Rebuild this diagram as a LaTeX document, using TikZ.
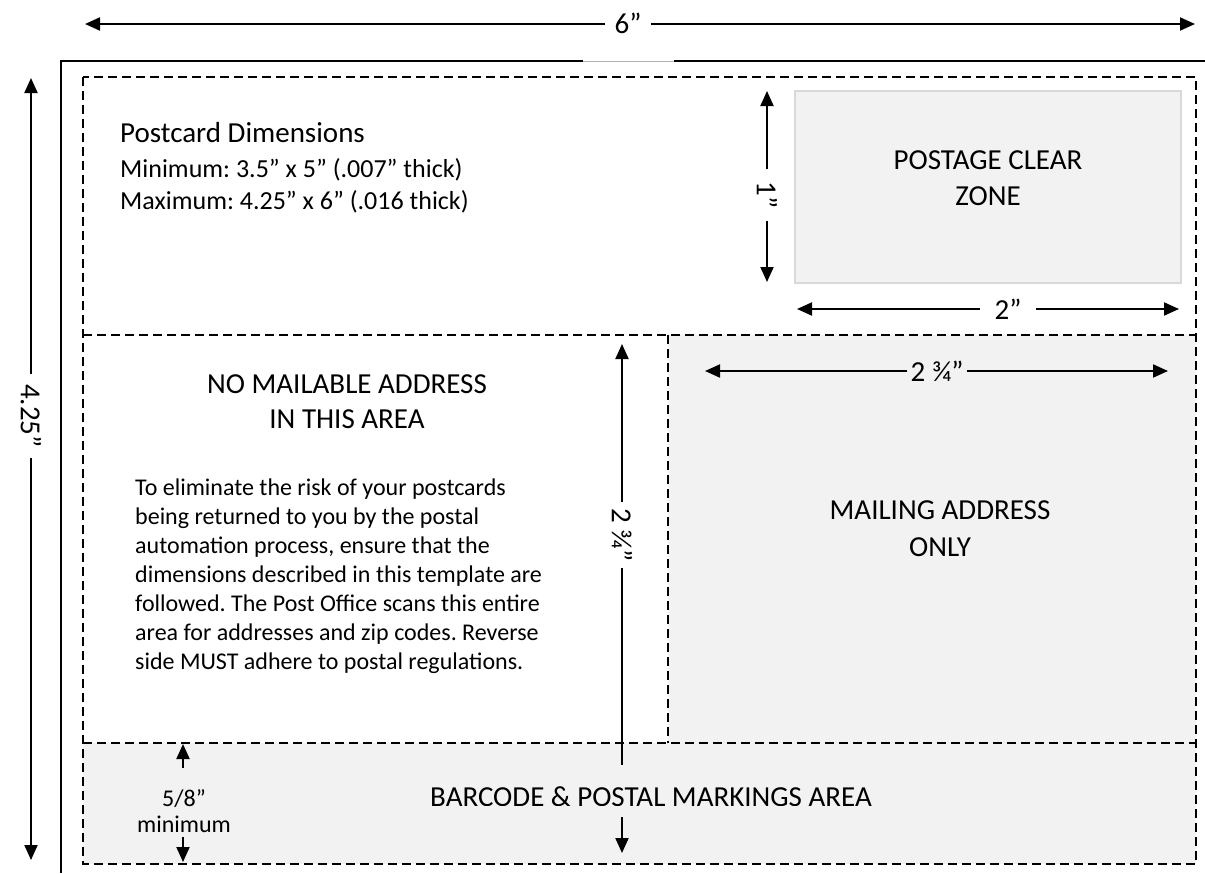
\documentclass[tikz,border=0pt]{standalone}
\usepackage{fontspec}
\setmainfont{Carlito}
\usetikzlibrary{arrows.meta}
\definecolor{boxgrey}{HTML}{F2F2F2}
\definecolor{edgegrey}{HTML}{D9D9D9}
\frenchspacing
\begin{document}
\begin{tikzpicture}[x=1pt,y=-1pt,
  dimarrow/.style={line width=2pt,-{Triangle[length=15pt,width=13pt]}},
  dimline/.style={line width=2pt},
  zoneline/.style={dash pattern=on 9pt off 5pt, line width=1.6pt},
  dimlbl/.style={font=\fontsize{29}{35}\selectfont, inner ysep=0pt},
  bigtxt/.style={font=\fontsize{29}{35}\selectfont, inner sep=0pt, anchor=base},
  midtxt/.style={font=\fontsize{26}{32}\selectfont, inner sep=0pt, anchor=base west},
  paratxt/.style={font=\fontsize{24}{29}\selectfont, inner sep=0pt, anchor=base west},
  smalltxt/.style={font=\fontsize{24}{29}\selectfont, inner sep=0pt, anchor=base}]
\useasboundingbox (0,0) rectangle (1205,873);
\fill[white] (0,0) rectangle (1205,873);

% grey areas
\fill[boxgrey] (668,335) rectangle (1196,743);
\fill[boxgrey] (83,743) rectangle (1196,864);
\draw[edgegrey, line width=1.2pt, fill=boxgrey] (795,91) rectangle (1181,283);

% outer solid frame
\coordinate (fTL) at (61,61);
\coordinate (fBL) at (61,873);
\coordinate (fG1) at (583,61);
\coordinate (fG2) at (674,61);
\coordinate (fTR) at (1205,61);
\draw[dimline] (fBL) -- (fTL) -- (fG1);
\draw[gray!60, line width=1pt] (fG1) -- (fG2);
\draw[dimline] (fG2) -- (fTR);

% dashed zones
\draw[zoneline] (83,77) rectangle (1196,864);
\coordinate (dL) at (83,335);
\coordinate (dR) at (1196,335);
\draw[zoneline] (dL) -- (dR);
\coordinate (mT) at (668,335);
\coordinate (mB) at (668,743);
\draw[zoneline] (mT) -- (mB);
\coordinate (bL) at (83,743);
\coordinate (bR) at (1196,743);
\draw[zoneline] (bL) -- (bR);

% 6" dimension
\coordinate (sixL) at (85,24);
\coordinate (sixR) at (1195,24);
\node[dimlbl, inner xsep=9pt] (six) at (628,23) {6”};
\draw[dimarrow] (six.west |- sixL) -- (sixL);
\draw[dimarrow] (six.east |- sixR) -- (sixR);

% 4.25" dimension
\coordinate (hT) at (31,78);
\coordinate (hB) at (31,860);
\node[dimlbl, inner xsep=10pt, rotate=-90] (hgt) at (31,416) {4.25”};
\draw[dimarrow] (hgt.west) -- (hT);
\draw[dimarrow] (hgt.east) -- (hB);

% 1" dimension
\coordinate (oT) at (767,91);
\coordinate (oB) at (767,282);
\node[dimlbl, inner xsep=12pt, rotate=-90] (one) at (767,195) {1”};
\draw[dimarrow] (one.west) -- (oT);
\draw[dimarrow] (one.east) -- (oB);

% 2" dimension
\coordinate (tL) at (797,309);
\coordinate (tR) at (1179,309);
\node[dimlbl, inner xsep=14pt] (two) at (1008,309) {2”};
\draw[dimarrow] (two.west |- tL) -- (tL);
\draw[dimarrow] (two.east |- tR) -- (tR);

% 2 3/4" horizontal
\coordinate (qL) at (705,371);
\coordinate (qR) at (1168,371);
\node[dimlbl, inner xsep=3pt] (tqh) at (937,371) {2 ¾”};
\draw[dimarrow] (tqh.west |- qL) -- (qL);
\draw[dimarrow] (tqh.east |- qR) -- (qR);

% 2 3/4" vertical
\coordinate (vT) at (622,344);
\coordinate (vM) at (622,765);
\coordinate (vS) at (622,817);
\coordinate (vB) at (622,853);
\node[dimlbl, inner xsep=6pt, rotate=-90] (tqv) at (622,535) {2 ¾”};
\draw[dimarrow] (tqv.west) -- (vT);
\draw[dimline] (tqv.east) -- (vM);
\draw[dimarrow] (vS) -- (vB);

% postage clear zone text
\node[bigtxt] (pc1) at (988,169) {POSTAGE CLEAR};
\node[bigtxt] (pc2) at (988,205) {ZONE};

% postcard dimensions
\node[midtxt, font=\fontsize{29}{35}\selectfont] (title) at (120,142) {Postcard Dimensions};
\node[midtxt] (minl) at (120,177) {Minimum: 3.5” x 5” (.007” thick)};
\node[midtxt] (maxl) at (120,209) {Maximum: 4.25” x 6” (.016 thick)};

% no mailable address
\node[bigtxt] (nm1) at (347,393) {NO MAILABLE ADDRESS};
\node[bigtxt] (nm2) at (347,428) {IN THIS AREA};

\node[paratxt] (p1) at (135,495) {To eliminate the risk of your postcards};
\node[paratxt] (p2) at (135,524) {being returned to you by the postal};
\node[paratxt] (p3) at (135,553) {automation process, ensure that the};
\node[paratxt] (p4) at (135,582) {dimensions described in this template are};
\node[paratxt] (p5) at (135,611) {followed. The Post Office scans this entire};
\node[paratxt] (p6) at (135,640) {area for addresses and zip codes. Reverse};
\node[paratxt] (p7) at (135,669) {side MUST adhere to postal regulations.};

% mailing address
\node[bigtxt] (ma1) at (940,519) {MAILING ADDRESS};
\node[bigtxt] (ma2) at (940,556) {ONLY};

% barcode area
\begin{scope}
  \clip (83,743) rectangle (1196,805);
  \node[bigtxt] (bc) at (651,806) {BARCODE \& POSTAL MARKINGS AREA};
\end{scope}

% 5/8" minimum
\coordinate (fuA) at (183,768);
\coordinate (fuT) at (183,744);
\coordinate (fdA) at (183,837);
\coordinate (fdT) at (183,862);
\node[smalltxt] (five) at (184,806) {5/8”};
\node[smalltxt] (mini) at (184,832) {minimum};
\draw[dimarrow] (fuA) -- (fuT);
\draw[dimarrow] (fdA) -- (fdT);
\end{tikzpicture}
\end{document}
